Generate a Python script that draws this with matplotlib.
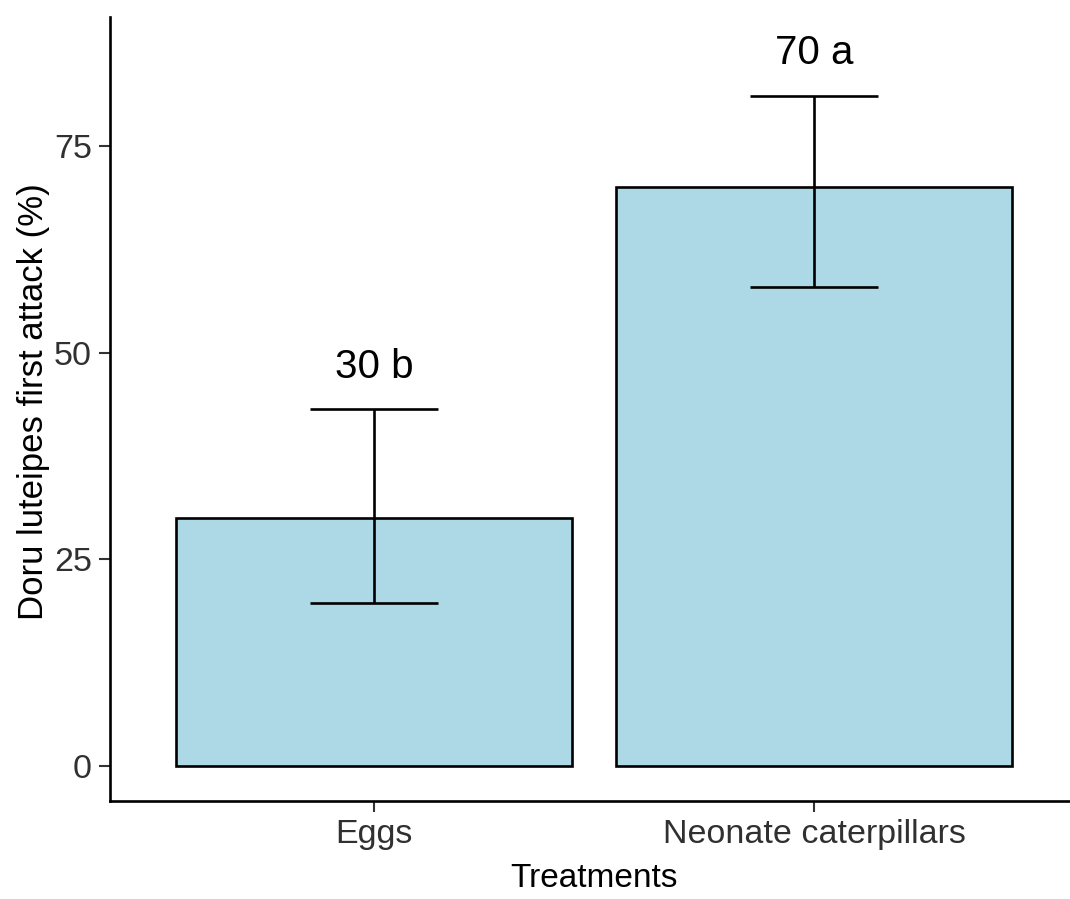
import matplotlib
matplotlib.use("Agg")
import matplotlib.pyplot as plt

# Data
treatments = ["Eggs", "Neonate caterpillars"]
attack_pct = [30, 70]
err_low = [19.7, 57.9]
err_high = [43.2, 81.0]
labels = ["30 b", "70 a"]
label_y = [46.0, 84.0]
yticks = [0, 25, 50, 75]

plt.rcParams["font.family"] = ["Liberation Sans", "DejaVu Sans"]

fig = plt.figure(figsize=(10.70, 8.99), dpi=100)
ax = fig.add_axes([0.1028, 0.109, 0.905, 0.872])

x = [1, 2]
ax.bar(x, attack_pct, width=0.9, color="#ADD8E6", edgecolor="black",
       linewidth=1.9, zorder=2)

for xi, lo, hi in zip(x, err_low, err_high):
    ax.vlines(xi, lo, hi, color="black", linewidth=1.9, zorder=3)
    ax.hlines([lo, hi], xi - 0.145, xi + 0.145, color="black",
              linewidth=1.9, zorder=3)

for xi, lab, ly in zip(x, labels, label_y):
    ax.text(xi, ly, lab, ha="center", va="bottom", fontsize=29, color="black")

ax.set_xlim(0.4, 2.6)
ax.set_ylim(-4.23, 90.6)
ax.set_xticks(x)
ax.set_xticklabels(treatments)
ax.set_yticks(yticks)

ax.spines["top"].set_visible(False)
ax.spines["right"].set_visible(False)
for s in ("left", "bottom"):
    ax.spines[s].set_linewidth(1.9)
    ax.spines[s].set_color("black")

ax.tick_params(axis="both", length=8, width=1.5, color="#333333",
               labelsize=24.5, labelcolor="#303030", pad=5)

ax.set_xlabel("Treatments", fontsize=24, labelpad=9)
ax.set_ylabel("Doru luteipes first attack (%)", fontsize=25, labelpad=3)
ax.yaxis.label.set_y(0.51)

fig.savefig("out.png", dpi=100)
